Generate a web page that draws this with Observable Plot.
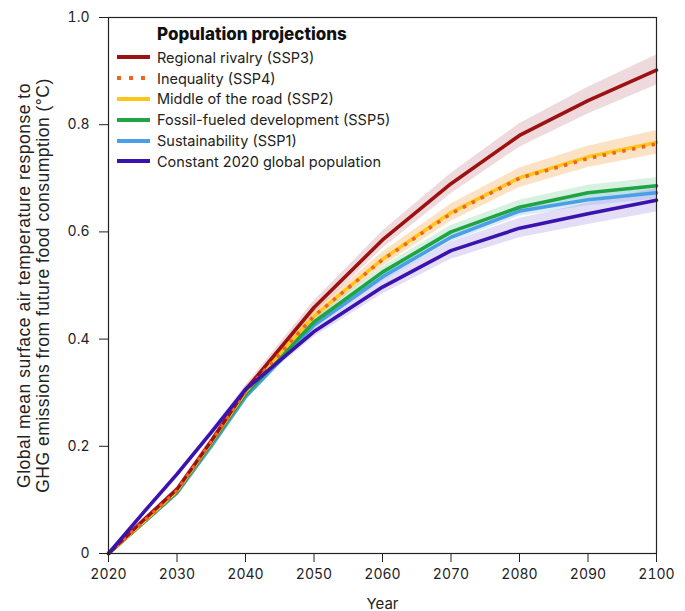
<!DOCTYPE html>
<html>
<head>
<meta charset="utf-8">
<script src="https://cdn.jsdelivr.net/npm/d3@7"></script>
<script src="https://cdn.jsdelivr.net/npm/@observablehq/plot@0.6"></script>
<style>
  body { margin: 0; background: #fff; font-family: Inter, Roboto, sans-serif; }
  #wrap { position: relative; width: 685px; height: 611px; }
  #legend { position: absolute; left: 117px; top: 24px; color: #222; }
  #legend .title { font-weight: 800; font-size: 17px; line-height: 20px; margin-left: 40px; margin-bottom: 3px; color: #111; }
  #legend .row { display: flex; align-items: center; height: 20.8px; font-size: 14.5px; }
  #legend svg { margin-right: 7px; }
</style>
</head>
<body>
<div id="wrap"></div>
<script>
const years = [2020, 2025, 2030, 2035, 2040, 2050, 2060, 2070, 2080, 2090, 2100];

const ssp3 = [0, 0.061, 0.120, 0.210, 0.305, 0.459, 0.585, 0.690, 0.780, 0.845, 0.902];
const ssp4 = [0, 0.058, 0.117, 0.208, 0.302, 0.443, 0.548, 0.634, 0.700, 0.737, 0.764];
const ssp2 = [0, 0.058, 0.117, 0.208, 0.302, 0.443, 0.549, 0.636, 0.701, 0.740, 0.767];
const ssp5 = [0, 0.057, 0.115, 0.205, 0.297, 0.432, 0.525, 0.600, 0.646, 0.673, 0.686];
const ssp1 = [0, 0.056, 0.113, 0.200, 0.292, 0.426, 0.516, 0.590, 0.639, 0.660, 0.673];
const constant = [0, 0.075, 0.148, 0.226, 0.306, 0.414, 0.497, 0.565, 0.607, 0.634, 0.659];

const spread3 = [0, 0.002, 0.004, 0.006, 0.008, 0.012, 0.016, 0.019, 0.022, 0.025, 0.028];
const spread4 = [0, 0.002, 0.003, 0.005, 0.007, 0.010, 0.013, 0.016, 0.018, 0.020, 0.022];
const spread2 = [0, 0.002, 0.003, 0.005, 0.007, 0.010, 0.013, 0.016, 0.018, 0.020, 0.022];
const spread5 = [0, 0.001, 0.002, 0.004, 0.005, 0.008, 0.010, 0.012, 0.013, 0.014, 0.015];
const spread1 = [0, 0.001, 0.002, 0.003, 0.004, 0.006, 0.008, 0.009, 0.010, 0.011, 0.012];
const spreadC = [0, 0.002, 0.003, 0.005, 0.007, 0.010, 0.013, 0.016, 0.018, 0.020, 0.022];

const xTicks = [2020, 2030, 2040, 2050, 2060, 2070, 2080, 2090, 2100];
const yTicks = [0, 0.2, 0.4, 0.6, 0.8, 1.0];
const yTickLabels = ["0", "0.2", "0.4", "0.6", "0.8", "1.0"];

const legendTitle = "Population projections";
const names = [
  "Regional rivalry (SSP3)",
  "Inequality (SSP4)",
  "Middle of the road (SSP2)",
  "Fossil-fueled development (SSP5)",
  "Sustainability (SSP1)",
  "Constant 2020 global population"
];
const lineColors = ["#9c1111", "#f06422", "#ffc61a", "#1fa443", "#4b9fe6", "#3a12ad"];
const bandColors = ["#c98a92", "#f7a64a", "#f7a64a", "#7fd3a0", "#8cc2f0", "#a995e0"];

const seriesDefs = [
  {name: names[0], values: ssp3, spread: spread3, color: lineColors[0], band: bandColors[0], dash: null},
  {name: names[1], values: ssp4, spread: spread4, color: lineColors[1], band: bandColors[1], dash: "3.5,6.5"},
  {name: names[2], values: ssp2, spread: spread2, color: lineColors[2], band: bandColors[2], dash: null},
  {name: names[3], values: ssp5, spread: spread5, color: lineColors[3], band: bandColors[3], dash: null},
  {name: names[4], values: ssp1, spread: spread1, color: lineColors[4], band: bandColors[4], dash: null},
  {name: names[5], values: constant, spread: spreadC, color: lineColors[5], band: bandColors[5], dash: null}
];

function rows(s) {
  return years.map((yr, i) => ({year: yr, v: s.values[i], lo: s.values[i] - s.spread[i], hi: s.values[i] + s.spread[i]}));
}

const bandOrder = [0, 2, 3, 4, 5];
const lineOrder = [4, 3, 2, 0, 1, 5];

const marks = [];
for (const i of bandOrder) {
  const s = seriesDefs[i];
  marks.push(Plot.areaY(rows(s), {x: "year", y1: "lo", y2: "hi", fill: s.band, fillOpacity: 0.32, curve: "linear"}));
}
for (const i of lineOrder) {
  const s = seriesDefs[i];
  const opts = {x: "year", y: "v", stroke: s.color, strokeWidth: 3.6, curve: "linear", strokeLinejoin: "round"};
  if (s.dash) { opts.strokeDasharray = s.dash; opts.strokeLinecap = "butt"; }
  else opts.strokeLinecap = "round";
  marks.push(Plot.line(rows(s), opts));
}
const yTitle = "Global mean surface air temperature response to\nGHG emissions from future food consumption (°C)";
marks.push(Plot.frame({stroke: "#222", strokeWidth: 1.2}));
marks.push(Plot.axisX({ticks: xTicks, tickFormat: d => String(d), tickSize: 9, tickPadding: 7, fontSize: 14, label: null, color: "#222"}));
marks.push(Plot.axisY({ticks: yTicks, tickFormat: d => yTickLabels[yTicks.indexOf(d)], tickSize: 9, tickPadding: 10, fontSize: 14, label: null, color: "#222"}));
marks.push(Plot.text(["Year"], {frameAnchor: "bottom", dy: 55, fontSize: 15, lineAnchor: "bottom", fill: "#222"}));
marks.push(Plot.text([yTitle],
  {frameAnchor: "left", dx: -75, rotate: -90, fontSize: 17.5, lineHeight: 1.1, textAnchor: "middle", lineAnchor: "middle", fill: "#222", fontFamily: "'Liberation Sans', Arial, sans-serif"}));

const chart = Plot.plot({
  width: 685,
  height: 611,
  marginLeft: 108,
  marginRight: 29,
  marginTop: 17,
  marginBottom: 58,
  style: {fontFamily: "Inter, Roboto, sans-serif", fontSize: "14px", color: "#222", background: "#fff"},
  x: {domain: [2020, 2100]},
  y: {domain: [0, 1]},
  marks
});
d3.select(chart).selectAll("text")
  .filter(function() { return this.textContent.startsWith("Global mean"); })
  .style("letter-spacing", "0.5px");
const wrap = document.getElementById("wrap");
wrap.appendChild(chart);

const legend = document.createElement("div");
legend.id = "legend";
const t = document.createElement("div");
t.className = "title";
t.textContent = legendTitle;
legend.appendChild(t);
seriesDefs.forEach(s => {
  const row = document.createElement("div");
  row.className = "row";
  const sw = d3.create("svg").attr("width", 33).attr("height", 8);
  sw.append("line").attr("x1", 0).attr("x2", 33).attr("y1", 4).attr("y2", 4)
    .attr("stroke", s.color).attr("stroke-width", 4)
    .attr("stroke-dasharray", s.dash ? "4,8" : null);
  row.appendChild(sw.node());
  const label = document.createElement("span");
  label.textContent = s.name;
  row.appendChild(label);
  legend.appendChild(row);
});
wrap.appendChild(legend);
</script>
</body>
</html>
